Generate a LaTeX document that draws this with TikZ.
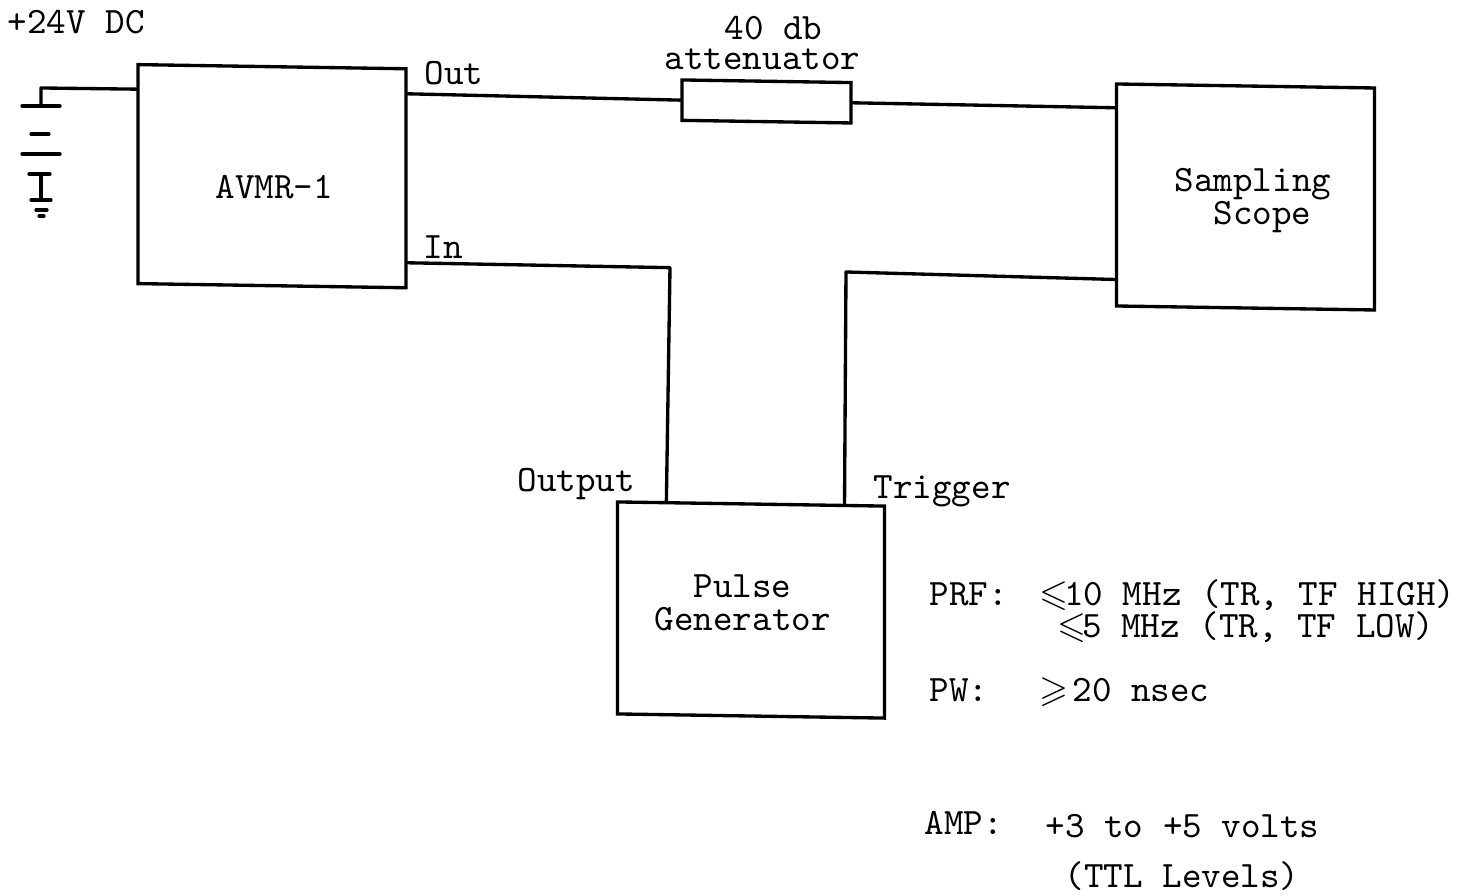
\documentclass[tikz,border=0pt]{standalone}
\usepackage{amssymb}
\usetikzlibrary{calc}
\newcommand{\lesym}{\makebox[0.525em]{\boldmath$\leqslant$}}
\newcommand{\gesym}{\makebox[0.525em]{\boldmath$\geqslant$}}
\begin{document}
\begin{tikzpicture}[x=1cm,y=1cm,
  box/.style={draw, line width=0.95pt, inner sep=0pt},
  wire/.style={line width=0.95pt, line cap=round, line join=round},
  lbl/.style={inner sep=0pt, anchor=base west, font=\fontsize{10.6}{12}\selectfont\ttfamily}]
\useasboundingbox (0,0) rectangle (14.65,8.96);

% the scan leans a little, so the boxes and wires sit in a slanted scope
\begin{scope}[yslant=-0.0155, transform shape]
\node[box, minimum width=2.68cm, minimum height=2.19cm] (avmr) at (2.72,7.24) {};
\node[box, minimum width=1.69cm, minimum height=0.404cm] (atten) at (7.665,8.064) {};
\node[box, minimum width=2.58cm, minimum height=2.22cm] (scope) at (12.455,7.183) {};
\node[box, minimum width=2.67cm, minimum height=2.12cm] (pulse) at (7.51,2.976) {};

\coordinate (outpin) at ($(avmr.north east)!0.12!(avmr.south east)$);
\coordinate (inpin) at ($(avmr.north east)!0.88!(avmr.south east)$);
\coordinate (vccpin) at ($(avmr.north west)!0.118!(avmr.south west)$);
\coordinate (scopein) at ($(scope.north west)!0.113!(scope.south west)$);
\coordinate (scopetrig) at ($(scope.north west)!0.875!(scope.south west)$);
\coordinate (pulseout) at ($(pulse.north west)!0.187!(pulse.north east)$);
\coordinate (pulsetrig) at ($(pulse.north west)!0.846!(pulse.north east)$);
\coordinate (incorner) at (6.70,6.387);
\coordinate (trigcorner) at (8.46,6.371);

\draw[wire] (outpin) -- (atten.west);
\draw[wire] (atten.east) -- (scopein);
\draw[wire] (inpin) -- (incorner) -- (pulseout);
\draw[wire] (scopetrig) -- (trigcorner) -- (pulsetrig);
\end{scope}

% battery
\coordinate (battop) at (0.41,8.08);
\coordinate (plateone) at (0.41,7.90);
\coordinate (stemtop) at (0.41,7.22);
\coordinate (stembot) at (0.41,6.96);
\draw[wire] (vccpin) -- (battop) -- (plateone);
\draw[wire] (0.22,7.90) -- (0.60,7.90);
\draw[wire] (0.31,7.62) -- (0.49,7.62);
\draw[wire] (0.22,7.42) -- (0.60,7.42);
\draw[wire] (0.29,7.22) -- (0.50,7.22);
\draw[wire] (stemtop) -- (stembot);
\draw[wire] (0.31,6.96) -- (0.51,6.96);
\draw[wire] (0.36,6.86) -- (0.47,6.86);
\draw[wire] (0.39,6.80) -- (0.44,6.80);

\node[lbl] (vcc) at (0.07,8.62) {+24V DC};
\node[lbl] (db) at (7.24,8.56) {40 db};
\node[lbl] (attn) at (6.64,8.26) {attenuator};
\node[lbl] (out) at (4.24,8.11) {Out};
\node[lbl] (in) at (4.23,6.37) {In};
\node[lbl] (avmrname) at (2.15,6.97) {AVMR-1};
\node[lbl] (samp) at (11.74,7.04) {Sampling};
\node[lbl] (scopename) at (12.13,6.71) {Scope};
\node[lbl] (output) at (5.17,4.04) {Output};
\node[lbl] (trigger) at (8.73,3.97) {Trigger};
\node[lbl] (pulsename) at (6.93,2.98) {Pulse};
\node[lbl] (gen) at (6.54,2.65) {Generator};

\node[lbl] (prf) at (9.29,2.90) {PRF:};
\node[lbl] (prfhigh) at (10.44,2.90) {\lesym10 MHz (TR, TF HIGH)};
\node[lbl] (prflow) at (10.62,2.58) {\lesym{}5 MHz (TR, TF LOW)};
\node[lbl] (pw) at (9.29,1.94) {PW:};
\node[lbl] (pwval) at (10.44,1.94) {\gesym\hspace{0.22em}20 nsec};
\node[lbl] (amp) at (9.24,0.61) {AMP:};
\node[lbl] (ampval) at (10.45,0.58) {+3 to +5 volts};
\node[lbl] (ttl) at (10.64,0.08) {(TTL Levels)};
\end{tikzpicture}
\end{document}
